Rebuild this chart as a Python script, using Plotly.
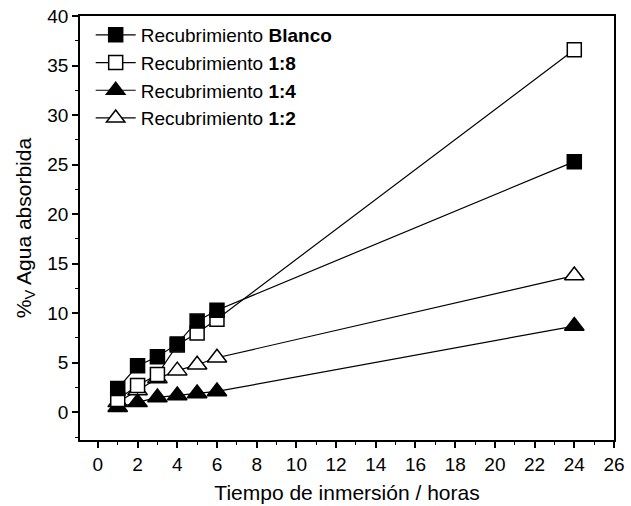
import plotly.graph_objects as go

x_short = [1, 2, 3, 4, 5, 6, 24]

blanco = [2.4, 4.7, 5.6, 6.9, 9.2, 10.3, 25.3]
r18 = [1.3, 2.7, 3.8, 6.8, 8.0, 9.4, 36.6]
r14 = [0.5, 1.0, 1.5, 1.7, 1.9, 2.1, 8.7]
r12 = [1.0, 2.2, 3.4, 4.2, 4.8, 5.5, 13.8]

names = ["Recubrimiento <b>Blanco</b>", "Recubrimiento <b>1:8</b>",
         "Recubrimiento <b>1:4</b>", "Recubrimiento <b>1:2</b>"]

x_ticks = list(range(0, 27, 2))
y_ticks = list(range(0, 41, 5))

FONT = "Liberation Sans, Arial"

fig = go.Figure()
# drawn back-to-front: 1:2, 1:4, 1:8, Blanco
series = [
    (names[3], r12, "triangle-up", "white", 17),
    (names[2], r14, "triangle-up", "black", 17),
    (names[1], r18, "square", "white", 14),
    (names[0], blanco, "square", "black", 14),
]
for name, ys, sym, fill, size in series:
    fig.add_trace(go.Scatter(
        x=x_short, y=ys, name=name, mode="lines+markers",
        line=dict(color="black", width=1.2),
        marker=dict(symbol=sym, size=size, color=fill,
                    line=dict(color="black", width=1.5)),
    ))

axis_common = dict(
    showline=True, linecolor="black", linewidth=1.8, mirror=True,
    ticks="outside", ticklen=6, tickwidth=1.5, tickcolor="black",
    showgrid=False, zeroline=False, automargin=False,
    tickfont=dict(family=FONT, size=19, color="black"),
)

fig.update_xaxes(
    range=[-0.9, 26], tickvals=x_ticks,
    minor=dict(ticks="outside", ticklen=3, tickwidth=1.2, tickcolor="black", dtick=1, tick0=0),
    title=dict(text="Tiempo de inmersión / horas",
               font=dict(family=FONT, size=21, color="black"), standoff=12),
    **axis_common,
)
fig.update_yaxes(
    range=[-2.8, 40], tickvals=y_ticks,
    minor=dict(ticks="outside", ticklen=3, tickwidth=1.2, tickcolor="black", dtick=2.5, tick0=0),
    title=dict(text="%<sub>V</sub> Agua absorbida",
               font=dict(family=FONT, size=21, color="black"), standoff=10),
    **axis_common,
)

fig.update_layout(
    width=631, height=506,
    margin=dict(l=80, r=17, t=16, b=66),
    paper_bgcolor="white", plot_bgcolor="white",
    showlegend=True,
    legend=dict(x=0.02, y=1.0, xanchor="left", yanchor="top",
                traceorder="reversed", bgcolor="rgba(0,0,0,0)",
                font=dict(family=FONT, size=19, color="black"),
                itemwidth=40, tracegroupgap=0),
)

fig.write_html("out.html", config={"displayModeBar": False},
               post_script="document.body.style.margin='0';document.body.style.overflow='hidden';")
